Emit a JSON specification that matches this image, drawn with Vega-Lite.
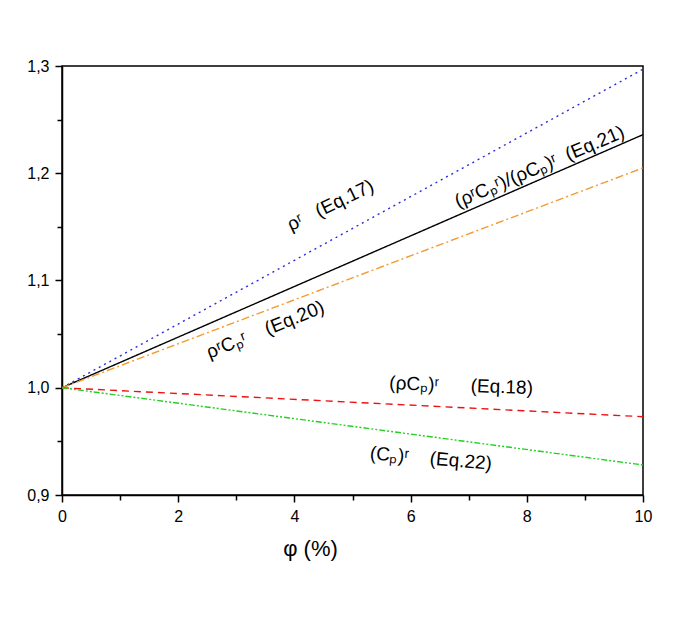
{
  "$schema": "https://vega.github.io/schema/vega-lite/v6.json",
  "autosize": "none",
  "width": 581,
  "height": 429,
  "padding": {"left": 62, "top": 66, "right": 42, "bottom": 127},
  "background": "white",
  "config": {
    "view": {"stroke": "black", "strokeWidth": 1.5},
    "font": "Liberation Sans",
    "axis": {
      "domainColor": "black", "domainWidth": 1.5, "tickColor": "black", "tickWidth": 1.5,
      "labelColor": "black", "labelFont": "Liberation Sans", "labelFontSize": 16,
      "labelFlush": false, "labelOverlap": false,
      "titleColor": "black", "titleFont": "Liberation Sans", "grid": false
    }
  },
  "datasets": {
    "lines": [
      {"series": "rho", "x": 0, "y": 1.0}, {"series": "rho", "x": 10, "y": 1.297},
      {"series": "ratio", "x": 0, "y": 1.0}, {"series": "ratio", "x": 10, "y": 1.236},
      {"series": "rhoCp_r", "x": 0, "y": 1.0}, {"series": "rhoCp_r", "x": 10, "y": 1.205},
      {"series": "rhoCp", "x": 0, "y": 1.0}, {"series": "rhoCp", "x": 10, "y": 0.973},
      {"series": "Cp", "x": 0, "y": 1.0}, {"series": "Cp", "x": 10, "y": 0.928}
    ],
    "labels": [
      {"id": "17", "text": "ρʳ\u00a0\u00a0\u00a0(Eq.17)", "x": 4.62, "y": 1.170},
      {"id": "21", "text": "(ρʳCₚʳ)/(ρCₚ)ʳ\u00a0\u00a0(Eq.21)", "x": 8.22, "y": 1.206},
      {"id": "20", "text": "ρʳCₚʳ\u00a0\u00a0\u00a0\u00a0(Eq.20)", "x": 3.5, "y": 1.054},
      {"id": "18", "text": "(ρCₚ)ʳ\u00a0\u00a0\u00a0\u00a0\u00a0\u00a0(Eq.18)", "x": 6.87, "y": 1.002},
      {"id": "22", "text": "(Cₚ)ʳ\u00a0\u00a0\u00a0\u00a0(Eq.22)", "x": 6.35, "y": 0.934}
    ]
  },
  "layer": [
    {
      "data": {"name": "lines"},
      "mark": {"type": "line", "strokeWidth": 1.4},
      "encoding": {
        "x": {
          "field": "x", "type": "quantitative",
          "scale": {"domain": [0, 10], "nice": false, "zero": false},
          "axis": {
            "values": [0,1,2,3,4,5,6,7,8,9,10],
            "format": "d",
            "labelExpr": "datum.value % 2 == 0 ? format(datum.value, 'd') : ''",
            "tickSize": {"condition": {"test": "datum.value % 2 == 0", "value": 7}, "value": 5},
            "labelPadding": 6,
            "title": "φ (%)", "titleFontSize": 22, "titleFontWeight": "normal",
            "titleX": 248, "titleY": 60, "titleBaseline": "alphabetic", "titleAnchor": "middle"
          }
        },
        "y": {
          "field": "y", "type": "quantitative",
          "scale": {"domain": [0.9, 1.3], "nice": false, "zero": false},
          "axis": {
            "values": [0.9,0.95,1.0,1.05,1.1,1.15,1.2,1.25,1.3],
            "labelExpr": "round(datum.value*20) % 2 == 0 ? replace(format(datum.value, '.1f'), '.', ',') : ''",
            "tickSize": {"condition": {"test": "round(datum.value*20) % 2 == 0", "value": 7}, "value": 5},
            "labelPadding": 6,
            "title": null
          }
        },
        "color": {
          "field": "series", "type": "nominal", "legend": null,
          "scale": {"domain": ["rho", "ratio", "rhoCp_r", "rhoCp", "Cp"],
                    "range": ["#2a2ae0", "#000000", "#f59a30", "#ee1111", "#22d022"]}
        },
        "strokeDash": {
          "field": "series", "type": "nominal", "legend": null,
          "scale": {"domain": ["rho", "ratio", "rhoCp_r", "rhoCp", "Cp"],
                    "range": [[2, 4], [1, 0], [8, 3, 2, 3], [7, 5], [6, 2, 2, 2, 2, 2]]}
        }
      }
    },
    {
      "data": {"name": "labels"},
      "transform": [{"filter": "datum.id == '17'"}],
      "mark": {"type": "text", "angle": 334, "fontSize": 19, "font": "Liberation Sans", "color": "black"},
      "encoding": {"x": {"field": "x", "type": "quantitative"}, "y": {"field": "y", "type": "quantitative"}, "text": {"field": "text"}}
    },
    {
      "data": {"name": "labels"},
      "transform": [{"filter": "datum.id == '21'"}],
      "mark": {"type": "text", "angle": 337, "fontSize": 19, "font": "Liberation Sans", "color": "black"},
      "encoding": {"x": {"field": "x", "type": "quantitative"}, "y": {"field": "y", "type": "quantitative"}, "text": {"field": "text"}}
    },
    {
      "data": {"name": "labels"},
      "transform": [{"filter": "datum.id == '20'"}],
      "mark": {"type": "text", "angle": 338, "fontSize": 19, "font": "Liberation Sans", "color": "black"},
      "encoding": {"x": {"field": "x", "type": "quantitative"}, "y": {"field": "y", "type": "quantitative"}, "text": {"field": "text"}}
    },
    {
      "data": {"name": "labels"},
      "transform": [{"filter": "datum.id == '18'"}],
      "mark": {"type": "text", "angle": 2, "fontSize": 19, "font": "Liberation Sans", "color": "black"},
      "encoding": {"x": {"field": "x", "type": "quantitative"}, "y": {"field": "y", "type": "quantitative"}, "text": {"field": "text"}}
    },
    {
      "data": {"name": "labels"},
      "transform": [{"filter": "datum.id == '22'"}],
      "mark": {"type": "text", "angle": 5, "fontSize": 19, "font": "Liberation Sans", "color": "black"},
      "encoding": {"x": {"field": "x", "type": "quantitative"}, "y": {"field": "y", "type": "quantitative"}, "text": {"field": "text"}}
    }
  ]
}
